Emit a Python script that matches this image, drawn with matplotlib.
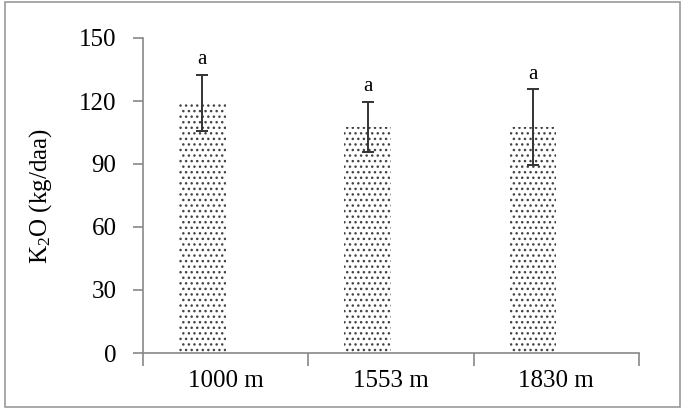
import matplotlib
matplotlib.use("Agg")
import matplotlib.pyplot as plt
from matplotlib.patches import Rectangle
import numpy as np

categories = ["1000 m", "1553 m", "1830 m"]
values = [119, 107.5, 107.5]
errors = [13.5, 12, 18]
letters = ["a", "a", "a"]
yticks = [0, 30, 60, 90, 120, 150]

plt.rcParams['font.family'] = ['Liberation Serif', 'DejaVu Serif']
plt.rcParams['mathtext.fontset'] = 'custom'
plt.rcParams['mathtext.rm'] = 'Liberation Serif'
plt.rcParams['mathtext.it'] = 'Liberation Serif:italic'
plt.rcParams['hatch.linewidth'] = 1.0

fig = plt.figure(figsize=(6.84, 4.12), dpi=100)
ax = fig.add_axes([143/684, 1-353/412, (639-143)/684, (353-38)/412])

x = np.arange(len(categories))
w = 0.283
pos = x - w/2
ax.bar(pos, values, width=w, color='white', edgecolor='#444444',
       hatch='...', linewidth=0, zorder=2)
ax.errorbar(pos, values, yerr=errors, fmt='none', ecolor='#333333',
            elinewidth=1.4, capsize=4, capthick=1.4, zorder=3)
for p, v, e, t in zip(pos, values, errors, letters):
    ax.annotate(t, (p, v + e), xytext=(0, 4), textcoords='offset points',
                ha='center', va='bottom', fontsize=15)

ax.set_xlim(-0.5, len(categories) - 0.5)
ax.set_ylim(0, 150)
ax.set_yticks(yticks)
ax.set_xticks(np.arange(len(categories) + 1) - 0.5)
ax.set_xticklabels([])
ax.set_xticks(x, minor=True)
ax.set_xticklabels(categories, minor=True, fontsize=18)
ax.tick_params(axis='x', which='minor', length=0, pad=12)
ax.tick_params(axis='x', which='major', length=9, width=1.2, color='#888888', direction='out')
ax.tick_params(axis='y', length=7, width=1.2, color='#888888', direction='out', pad=12, labelsize=18)

for s in ['top', 'right']:
    ax.spines[s].set_visible(False)
for s in ['left', 'bottom']:
    ax.spines[s].set_color('#888888')
    ax.spines[s].set_linewidth(1.2)

ax.set_ylabel('K$_2$O (kg/daa)', fontsize=18, labelpad=18)

fig.patches.append(Rectangle((5/684, 1-407/412), 675/684, 405/412,
                             transform=fig.transFigure, fill=False,
                             edgecolor='#999999', linewidth=1.2))

fig.savefig('out.png', dpi=100)
